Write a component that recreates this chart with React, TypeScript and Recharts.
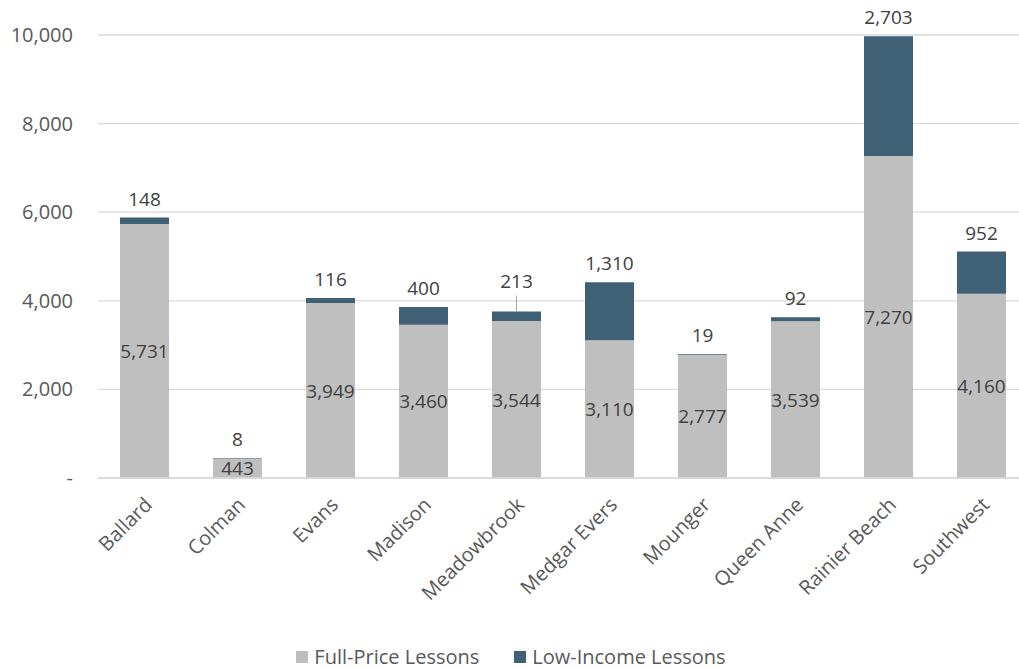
import React from "react";
import { BarChart, Bar, XAxis, YAxis, CartesianGrid, Legend, LabelList } from "recharts";

const categories = ["Ballard", "Colman", "Evans", "Madison", "Meadowbrook", "Medgar Evers", "Mounger", "Queen Anne", "Rainier Beach", "Southwest"];
const fullPrice = [5731, 443, 3949, 3460, 3544, 3110, 2777, 3539, 7270, 4160];
const lowIncome = [148, 8, 116, 400, 213, 1310, 19, 92, 2703, 952];
const yTicks = [0, 2000, 4000, 6000, 8000, 10000];
const leaderCategory = "Meadowbrook";

const data = categories.map((name, i) => ({ name, full: fullPrice[i], low: lowIncome[i] }));

const FONT = "'Open Sans', sans-serif";
const GRAY = "#BFBFBF";
const BLUE = "#3F6075";
const LABEL = "#404040";
const AXIS = "#595959";

const fmt = (v: number) => (v === 0 ? "-" : v.toLocaleString("en-US"));

const YTick = (props: any) => {
  const { x, y, payload } = props;
  return (
    <text x={x} y={y} dy={7} textAnchor="end" fill={AXIS} fontSize={20} fontFamily={FONT}>
      {fmt(payload.value)}
    </text>
  );
};

const XTick = (props: any) => {
  const { x, y, payload } = props;
  const tx = x + 9;
  const ty = y + 20;
  return (
    <text x={tx} y={ty} transform={`rotate(-45, ${tx}, ${ty})`} textAnchor="end" fill={AXIS} fontSize={20} fontFamily={FONT}>
      {payload.value}
    </text>
  );
};

const LowLabel = (props: any) => {
  const { x, y, width, value, index } = props;
  const cx = x + width / 2;
  const leader = categories[index] === leaderCategory;
  const ly = leader ? y - 31 : y - 19;
  return (
    <g>
      {leader && <line x1={cx} x2={cx} y1={y} y2={y - 16} stroke="#A6A6A6" strokeWidth={1} />}
      <text x={cx} y={ly} dy={7} textAnchor="middle" fill={LABEL} fontSize={19} fontFamily={FONT}>
        {Number(value).toLocaleString("en-US")}
      </text>
    </g>
  );
};

const FullLabel = (props: any) => {
  const { x, y, width, height, value } = props;
  return (
    <text x={x + width / 2} y={y + height / 2} dy={7} textAnchor="middle" fill={LABEL} fontSize={19} fontFamily={FONT}>
      {Number(value).toLocaleString("en-US")}
    </text>
  );
};

const LegendContent = () => (
  <div style={{ display: "flex", justifyContent: "center", alignItems: "center", fontFamily: FONT, fontSize: 20, color: AXIS, lineHeight: "24px" }}>
    <span style={{ display: "inline-block", width: 12, height: 12, background: GRAY, marginRight: 6 }} />
    <span style={{ marginRight: 35 }}>Full-Price Lessons</span>
    <span style={{ display: "inline-block", width: 12, height: 12, background: BLUE, marginRight: 6 }} />
    <span>Low-Income Lessons</span>
  </div>
);

export default function App() {
  return (
    <div style={{ position: "absolute", left: 0, top: 0, width: 1019, height: 669, overflow: "hidden", background: "#fff" }}>
      <BarChart width={1030} height={669} data={data} margin={{ top: 35, right: 2, left: 0, bottom: 0 }} barCategoryGap={44}>
        <CartesianGrid vertical={false} stroke="#D9D9D9" strokeWidth={1.3} />
        <XAxis dataKey="name" interval={0} tickLine={false} axisLine={{ stroke: "#D9D9D9", strokeWidth: 1.3 }} height={167} tick={<XTick />} />
        <YAxis domain={[0, 10000]} ticks={yTicks} width={98} axisLine={false} tickLine={false} tickSize={0} tickMargin={25} tick={<YTick />} />
        <Legend verticalAlign="bottom" height={24} content={<LegendContent />} wrapperStyle={{ left: 0, width: 1022, top: 645, bottom: "auto", height: 24 }} />
        <Bar dataKey="full" stackId="a" fill={GRAY} barSize={49} isAnimationActive={false}>
          <LabelList dataKey="full" content={<FullLabel />} />
        </Bar>
        <Bar dataKey="low" stackId="a" fill={BLUE} barSize={49} isAnimationActive={false}>
          <LabelList dataKey="low" content={<LowLabel />} />
        </Bar>
      </BarChart>
    </div>
  );
}
